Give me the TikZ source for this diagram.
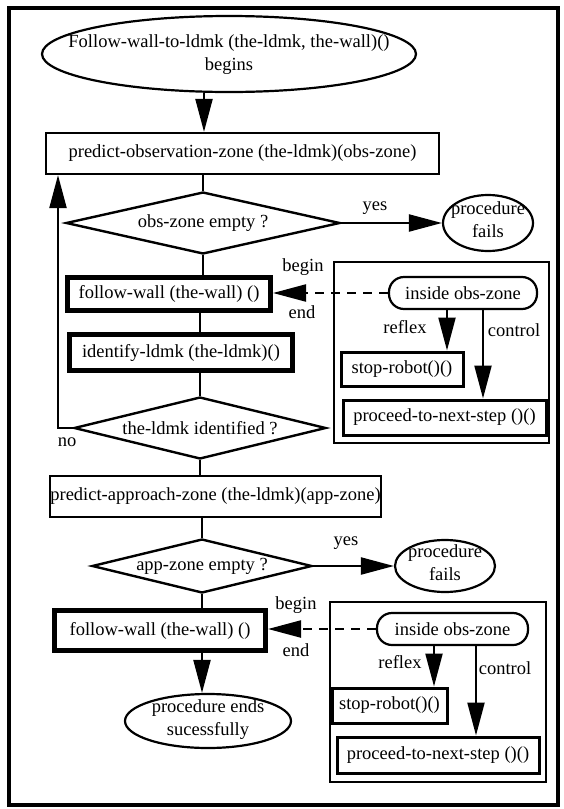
\documentclass[tikz,border=0pt]{standalone}
\usepackage{fontspec}
\setmainfont{Liberation Serif}
\usetikzlibrary{shapes.geometric,arrows.meta}
\newcommand{\ovaltext}[2][0pt]{\raisebox{#1}{\smash{\makebox[0pt]{\begin{tabular}{@{}c@{}}#2\end{tabular}}}}}
\begin{document}
\begin{tikzpicture}[x=1pt,y=-1pt,
  font=\fontsize{18.5}{23}\selectfont,
  box/.style={draw, rectangle, line width=2.2pt, inner sep=0pt, align=center},
  tbox/.style={box, line width=5pt},
  mbox/.style={box, line width=3pt},
  pill/.style={box, rounded corners=15pt},
  oval/.style={draw, ellipse, line width=2.2pt, inner sep=0pt},
  dia/.style={draw, diamond, aspect=4, line width=2.4pt, inner sep=0pt},
  lbl/.style={inner sep=0pt},
  arr/.style={-{Triangle[length=33pt,width=17pt]}, line width=2.2pt},
  ln/.style={line width=2.2pt},
  dsh/.style={arr, dash pattern=on 9pt off 7pt}]
\useasboundingbox (0,0) rectangle (563,809);
\draw[line width=3.5pt] (9,8) rectangle (558,805);

% main column
\node[oval, minimum width=374, minimum height=76] (start) at (229,54)
  {\ovaltext[-9pt]{Follow-wall-to-ldmk (the-ldmk, the-wall)()\\begins}};
\node[box, minimum width=393, minimum height=41] (box1) at (242.5,153.5)
  {predict-observation-zone (the-ldmk)(obs-zone)};
\node[dia, minimum width=274, minimum height=62] (d1) at (203,223) {obs-zone empty ?};
\node[oval, minimum width=90, minimum height=56] (fail1) at (488,223)
  {\ovaltext[-5pt]{procedure\\fails}};
\node[tbox, minimum width=203, minimum height=33] (box2) at (169,294)
  {follow-wall (the-wall) ()};
\node[tbox, minimum width=223, minimum height=36] (box3) at (181,352.5)
  {identify-ldmk (the-ldmk)()};
\node[dia, minimum width=252, minimum height=62] (d2) at (200,428) {the-ldmk identified ?};
\node[box, minimum width=331, minimum height=41] (box4) at (215.5,496.5)
  {predict-approach-zone (the-ldmk)(app-zone)};
\node[dia, minimum width=220, minimum height=54] (d3) at (202,566) {app-zone empty ?};
\node[oval, minimum width=100, minimum height=52] (fail2) at (445,566)
  {\ovaltext[-5pt]{procedure\\fails}};
\node[tbox, minimum width=211, minimum height=40] (box5) at (160,630.5)
  {follow-wall (the-wall) ()};
\node[oval, minimum width=166, minimum height=54] (endov) at (208,721)
  {\ovaltext[-5pt]{procedure ends\\sucessfully}};

% right group 1
\node[box, minimum width=215, minimum height=181] (cont1) at (441.5,352.5) {};
\node[pill, minimum width=148, minimum height=32] (inside1) at (463,293) {inside obs-zone};
\node[mbox, minimum width=122, minimum height=34] (stop1) at (402,369) {stop-robot()()};
\node[mbox, minimum width=203, minimum height=35] (proc1) at (444.5,417.5) {proceed-to-next-step ()()};

% right group 2
\node[box, minimum width=216, minimum height=180] (cont2) at (438,692) {};
\node[pill, minimum width=151, minimum height=32] (inside2) at (452.5,629) {inside obs-zone};
\node[mbox, minimum width=115, minimum height=35] (stop2) at (389.5,705.5) {stop-robot()()};
\node[mbox, minimum width=202, minimum height=36] (proc2) at (438,755) {proceed-to-next-step ()()};

% helper x positions
\coordinate (sA) at (204,0);
\coordinate (lp) at (58,0);
\coordinate (rA) at (447,0);
\coordinate (cA) at (483,0);
\coordinate (rB) at (434,0);
\coordinate (cB) at (476,0);

% connectors
\draw[arr] (start.south -| sA) -- (box1.north -| sA);
\draw[ln] (box1.south -| d1.north) -- (d1.north);
\draw[arr] (d1.east) -- (fail1.west);
\draw[ln] (d1.south) -- (d1.south |- box2.north);
\draw[ln] (box2.south -| d2.north) -- (box3.north -| d2.north);
\draw[ln] (box3.south -| d2.north) -- (d2.north);
\draw[arr] (d2.west) -- (d2.west -| lp) -- (box1.south -| lp);
\draw[ln] (d2.south) -- (d2.south |- box4.north);
\draw[ln] (box4.south -| d3.north) -- (d3.north);
\draw[arr] (d3.east) -- (fail2.west);
\draw[ln] (d3.south) -- (d3.south |- box5.north);
\draw[arr] (box5.south -| d3.south) -- (endov.north -| d3.south);

\draw[dsh] (inside1.west) -- (inside1.west -| box2.east);
\draw[arr] (inside1.south -| rA) -- (stop1.north -| rA);
\draw[arr] (inside1.south -| cA) -- (proc1.north -| cA);

\draw[dsh] (inside2.west) -- (inside2.west -| box5.east);
\draw[arr] (inside2.south -| rB) -- (stop2.north -| rB);
\draw[arr] (inside2.south -| cB) -- (proc2.north -| cB);

% labels
\node[lbl] (yes1) at (375,208) {yes};
\node[lbl] (no1) at (67,442) {no};
\node[lbl] (beg1) at (303,267) {begin};
\node[lbl] (end1) at (302,312) {end};
\node[lbl] (rfx1) at (405,327) {reflex};
\node[lbl] (ctl1) at (514,330) {control};
\node[lbl] (yes2) at (346,543) {yes};
\node[lbl] (beg2) at (296,605) {begin};
\node[lbl] (end2) at (296,650) {end};
\node[lbl] (rfx2) at (400,662) {reflex};
\node[lbl] (ctl2) at (505,668) {control};
\end{tikzpicture}
\end{document}
